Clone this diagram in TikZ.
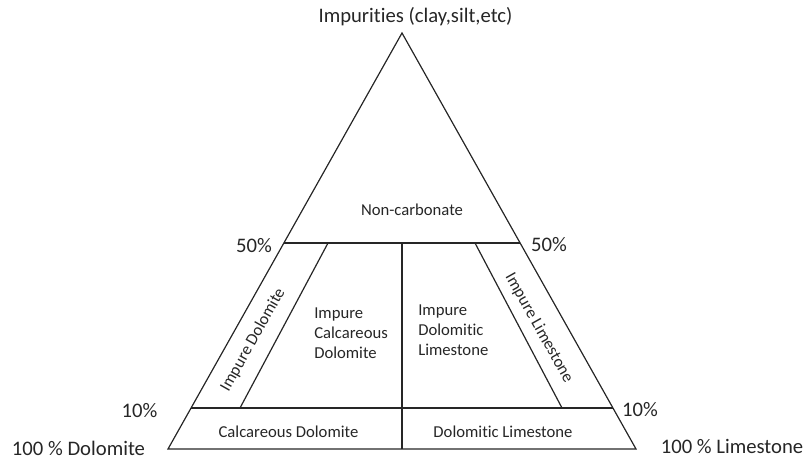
\documentclass[tikz,border=0pt]{standalone}
\usepackage{fontspec}
\setmainfont{Carlito}[Ligatures={NoCommon}]
\begin{document}
\begin{tikzpicture}[x=0.75pt,y=-0.75pt,
  edge/.style={draw=black!85,line width=0.9pt},
  big/.style={font=\fontsize{15.5}{18}\selectfont,text=black!85,inner sep=0pt},
  small/.style={font=\fontsize{12.5}{15}\selectfont,text=black!85,inner sep=0pt},
  multi/.style={small,align=left,font=\fontsize{12.5}{15}\selectfont}]
\useasboundingbox (0,0) rectangle (809,459);
% corners
\coordinate (A) at (168,449);
\coordinate (B) at (636,449);
\coordinate (C) at (402,33);
\coordinate (L50) at (284,243);
\coordinate (R50) at (520,243);
\coordinate (L10) at (191,408);
\coordinate (R10) at (613,408);
\coordinate (IL50) at (328,243);
\coordinate (IL10) at (240,408);
\coordinate (IR50) at (475,243);
\coordinate (IR10) at (562,408);
\coordinate (V50) at (402,243);
\coordinate (V0) at (402,449);
% lines
\draw[edge,line join=miter] (A) -- (B) -- (C) -- cycle;
\draw[edge] (L50) -- (R50);
\draw[edge] (L10) -- (R10);
\draw[edge] (IL50) -- (IL10);
\draw[edge] (IR50) -- (IR10);
\draw[edge] (V50) -- (V0);
% labels
\node[big] (top) at (415.5,17) {Impurities (clay,silt,etc)};
\node[small] (nc) at (412,210) {Non-carbonate};
\node[big] (l50) at (254,246) {50\%};
\node[big] (r50) at (549,245) {50\%};
\node[big] (l10) at (139.5,411) {10\%};
\node[big] (r10) at (640,410) {10\%};
\node[big] (dol) at (78.5,448) {100 \% Dolomite};
\node[big] (lim) at (732,446) {100 \% Limestone};
\node[small] (cd) at (288.5,432) {Calcareous Dolomite};
\node[small] (dl) at (503,432) {Dolomitic Limestone};
\node[multi,anchor=west] (icd) at (314,333) {Impure\\Calcareous\\Dolomite};
\node[multi,anchor=west] (idl) at (418,330) {Impure\\Dolomitic\\Limestone};
\node[small,rotate=60.6] (id) at (253,340) {Impure Dolomite};
\node[small,rotate=-60.6] (il) at (539,328) {Impure Limestone};
\end{tikzpicture}
\end{document}
